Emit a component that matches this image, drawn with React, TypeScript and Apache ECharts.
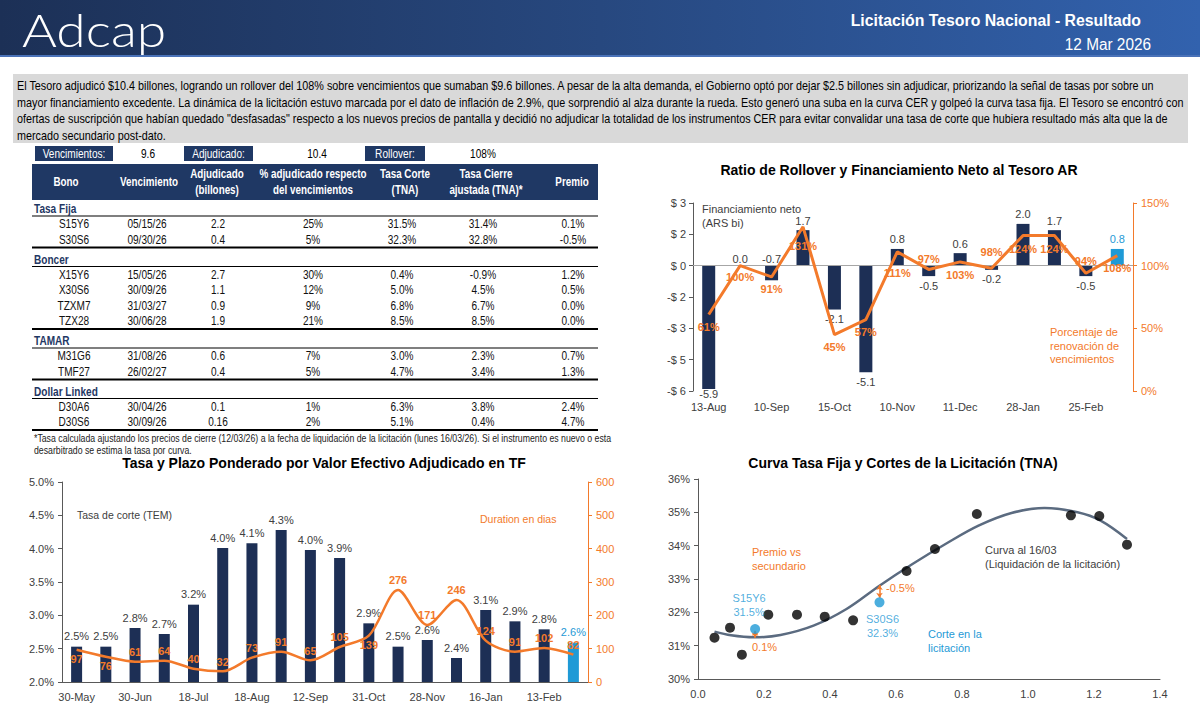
import React, { useEffect, useRef } from 'react';
import * as echarts from 'echarts';

// ---------------- Texts ----------------
const brandName = 'Adcap';
const reportTitle = 'Licitación Tesoro Nacional - Resultado';
const reportDate = '12 Mar 2026';

const summaryText = [
  'El Tesoro adjudicó $10.4 billones, logrando un rollover del 108% sobre vencimientos que sumaban $9.6 billones. A pesar de la alta demanda, el Gobierno optó por dejar $2.5 billones sin adjudicar, priorizando la señal de tasas por sobre un',
  'mayor financiamiento excedente. La dinámica de la licitación estuvo marcada por el dato de inflación de 2.9%, que sorprendió al alza durante la rueda. Esto generó una suba en la curva CER y golpeó la curva tasa fija. El Tesoro se encontró con',
  'ofertas de suscripción que habían quedado "desfasadas" respecto a los nuevos precios de pantalla y decidió no adjudicar la totalidad de los instrumentos CER para evitar convalidar una tasa de corte que hubiera resultado más alta que la de',
  'mercado secundario post-dato.',
];

const kpiLabels = ['Vencimientos:', 'Adjudicado:', 'Rollover:'];
const kpiValues = ['9.6', '10.4', '108%'];

const tableHeaders = [
  'Bono',
  'Vencimiento',
  'Adjudicado\n(billones)',
  '% adjudicado respecto\ndel vencimientos',
  'Tasa Corte\n(TNA)',
  'Tasa Cierre\najustada (TNA)*',
  'Premio',
];
const sectionNames = ['Tasa Fija', 'Boncer', 'TAMAR', 'Dollar Linked'];
const bondSection = [0, 0, 1, 1, 1, 1, 2, 2, 3, 3];
const bondNames = ['S15Y6', 'S30S6', 'X15Y6', 'X30S6', 'TZXM7', 'TZX28', 'M31G6', 'TMF27', 'D30A6', 'D30S6'];
const bondMaturity = ['05/15/26', '09/30/26', '15/05/26', '30/09/26', '31/03/27', '30/06/28', '31/08/26', '26/02/27', '30/04/26', '30/09/26'];
const bondAwarded = ['2.2', '0.4', '2.7', '1.1', '0.9', '1.9', '0.6', '0.4', '0.1', '0.16'];
const bondAwardedPct = ['25%', '5%', '30%', '12%', '9%', '21%', '7%', '5%', '1%', '2%'];
const bondCutRate = ['31.5%', '32.3%', '0.4%', '5.0%', '6.8%', '8.5%', '3.0%', '4.7%', '6.3%', '5.1%'];
const bondCloseRate = ['31.4%', '32.8%', '-0.9%', '4.5%', '6.7%', '8.5%', '2.3%', '3.4%', '3.8%', '0.4%'];
const bondPremium = ['0.1%', '-0.5%', '1.2%', '0.5%', '0.0%', '0.0%', '0.7%', '1.3%', '2.4%', '4.7%'];
const footnote = [
  '*Tasa calculada ajustando los precios de cierre (12/03/26) a la fecha de liquidación de la licitación (lunes 16/03/26). Si el instrumento es nuevo o esta',
  'desarbitrado se estima la tasa por curva.',
];

// ---------------- Chart 1: rollover ----------------
const rolloverTitle = 'Ratio de Rollover y Financiamiento Neto al Tesoro AR';
const rolloverDates = ['13-Aug', '27-Aug', '10-Sep', '24-Sep', '15-Oct', '29-Oct', '10-Nov', '26-Nov', '11-Dec', '14-Jan', '28-Jan', '11-Feb', '25-Feb', '12-Mar'];
const netFinancing = [-5.9, 0.0, -0.7, 1.7, -2.1, -5.1, 0.8, -0.5, 0.6, -0.2, 2.0, 1.7, -0.5, 0.8];
const rolloverPct = [61, 100, 91, 131, 45, 57, 111, 97, 103, 98, 124, 124, 94, 108];
const rolloverLeftNote = ['Financiamiento neto', '(ARS bi)'];
const rolloverRightNote = ['Porcentaje de', 'renovación de', 'vencimientos'];

// ---------------- Chart 2: tasa y plazo ----------------
const tasaTitle = 'Tasa y Plazo Ponderado por Valor Efectivo Adjudicado en TF';
const tasaDates = ['30-May', '13-Jun', '30-Jun', '7-Jul', '18-Jul', '7-Aug', '18-Aug', '27-Aug', '12-Sep', '26-Sep', '31-Oct', '12-Nov', '28-Nov', '12-Dec', '16-Jan', '28-Jan', '13-Feb', '12-Mar'];
const tasaCorteTem = [2.53, 2.53, 2.81, 2.72, 3.16, 4.01, 4.08, 4.28, 3.98, 3.86, 2.88, 2.53, 2.63, 2.36, 3.08, 2.91, 2.79, 2.59];
const durationDays = [97, 76, 61, 64, 40, 32, 73, 91, 65, 105, 139, 276, 171, 246, 124, 91, 102, 82];
const tasaNote = 'Tasa de corte (TEM)';
const durationNote = 'Duration en dias';

// ---------------- Chart 3: curva ----------------
const curveTitle = 'Curva Tasa Fija y Cortes de la Licitación (TNA)';
const secDuration = [0.05, 0.097, 0.133, 0.213, 0.30, 0.384, 0.47, 0.632, 0.718, 0.845, 1.13, 1.216, 1.30];
const secRate = [31.24, 31.54, 30.73, 31.93, 31.93, 31.87, 31.76, 33.24, 33.9, 34.95, 34.91, 34.89, 34.03];
const fitDuration = [0.05, 0.10, 0.17, 0.25, 0.35, 0.45, 0.55, 0.65, 0.75, 0.85, 0.95, 1.05, 1.15, 1.22, 1.30];
const fitRate = [31.42, 31.31, 31.25, 31.32, 31.6, 32.1, 32.8, 33.45, 34.05, 34.6, 34.98, 35.13, 35.0, 34.75, 34.2];
const cutNames = ['S15Y6', 'S30S6'];
const cutDuration = [0.173, 0.55];
const cutRate = [31.5, 32.3];
const curveAtCut = [31.24, 32.82];
const cutPremium = ['0.1%', '-0.5%'];
const premioNote = ['Premio vs', 'secundario'];
const corteNote = ['Corte en la', 'licitación'];
const curveNote = ['Curva al 16/03', '(Liquidación de la licitación)'];

// ---------------- Styles ----------------
const SANS = "'Liberation Sans', Arial, sans-serif";
const NAVY = '#1f3864';
const BAR = '#1d2f55';
const BLUE = '#1f9ad6';
const ORANGE = '#f37a2b';
const GREY = '#404040';
const AXIS = '#595959';

function txt(x: number, y: number, text: string, o: any = {}) {
  return {
    type: 'text',
    x,
    y,
    scaleX: o.sx ?? 1,
    silent: true,
    z: o.z ?? 10,
    style: {
      text,
      fill: o.fill ?? '#000',
      fontSize: o.size ?? 11,
      fontFamily: o.family ?? SANS,
      fontWeight: o.weight ?? 'normal',
      align: o.align ?? 'left',
      verticalAlign: 'middle',
      lineHeight: o.lh ?? 14,
    },
  };
}
function rect(x: number, y: number, w: number, h: number, fill: any) {
  return { type: 'rect', silent: true, z: 1, shape: { x, y, width: w, height: h }, style: { fill } };
}
function hline(x1: number, x2: number, y: number, w: number) {
  return { type: 'line', silent: true, z: 2, shape: { x1, y1: y, x2, y2: y }, style: { stroke: '#000', lineWidth: w } };
}

const NSX = 0.84; // condensed look for the narrow body font

function buildGraphic() {
  const g: any[] = [];
  // header
  g.push(rect(0, 0, 1200, 56, new echarts.graphic.LinearGradient(0, 0, 1, 0, [
    { offset: 0, color: '#1c3056' },
    { offset: 0.5, color: '#27487f' },
    { offset: 1, color: '#3262ae' },
  ])));
  g.push(rect(0, 55, 1200, 2, '#4a72b8'));
  g.push(txt(22, 29, brandName, { fill: '#fff', size: 46, family: "Lato, 'Noto Sans', sans-serif", weight: 300, lh: 46, sx: 1.16 }));
  g.push(txt(1141, 20, reportTitle, { fill: '#fff', size: 17, weight: 'bold', align: 'right', sx: 0.93 }));
  g.push(txt(1151, 44, reportDate, { fill: '#fff', size: 16, align: 'right', sx: 0.96 }));

  // summary paragraph
  g.push(rect(13, 74, 1175, 69, '#d9d9d9'));
  const pY = [86, 103, 119, 136];
  summaryText.forEach((line, i) => g.push(txt(17, pY[i], line, { size: 12, sx: 0.9 })));

  // KPI row
  const kpiBox = [[35, 78], [184, 69], [365, 60]];
  const kpiValX = [148, 317, 483];
  kpiLabels.forEach((l, i) => {
    g.push(rect(kpiBox[i][0], 146, kpiBox[i][1], 15, NAVY));
    g.push(txt(kpiBox[i][0] + kpiBox[i][1] / 2, 153.5, l, { fill: '#fff', size: 12, align: 'center', sx: NSX }));
    g.push(txt(kpiValX[i], 153.5, kpiValues[i], { size: 12, align: 'center', sx: NSX }));
  });

  // table header
  const colX = [66, 149, 217, 313, 405, 486, 572];
  const tL = 32, tR = 598;
  g.push(rect(tL, 164, tR - tL, 36, NAVY));
  tableHeaders.forEach((h, i) =>
    g.push(txt(colX[i], 182, h, { fill: '#fff', size: 12, weight: 'bold', align: 'center', lh: 16, sx: 0.82 }))
  );

  // table body
  const step = 15.5;
  const cx = [74, 147, 218, 313, 402, 483, 573];
  let y = 209;
  sectionNames.forEach((s, si) => {
    if (si > 0) g.push(hline(tL, tR, y - 12, 2));
    g.push(txt(34, y, s, { fill: NAVY, size: 12, weight: 'bold', sx: NSX }));
    g.push(hline(tL, tR, y + 7, 1.2));
    let ry = y + 15;
    bondNames.forEach((b, bi) => {
      if (bondSection[bi] !== si) return;
      const cells = [b, bondMaturity[bi], bondAwarded[bi], bondAwardedPct[bi], bondCutRate[bi], bondCloseRate[bi], bondPremium[bi]];
      cells.forEach((c, ci) => g.push(txt(cx[ci], ry, c, { size: 12, align: 'center', fill: '#111', sx: NSX })));
      ry += step;
    });
    y = ry - step + 20;
  });
  g.push(hline(tL, tR, y - 12, 2));
  footnote.forEach((f, i) => g.push(txt(34, 438 + i * 12, f, { size: 10, fill: '#222', sx: 0.875 })));

  // chart titles
  g.push(txt(899, 170, rolloverTitle, { size: 14, weight: 'bold', align: 'center' }));
  g.push(txt(324, 463, tasaTitle, { size: 14, weight: 'bold', align: 'center' }));
  g.push(txt(903, 463, curveTitle, { size: 14, weight: 'bold', align: 'center' }));

  // chart notes
  rolloverLeftNote.forEach((t, i) => g.push(txt(702, 209 + i * 14, t, { fill: GREY, size: 11 })));
  rolloverRightNote.forEach((t, i) => g.push(txt(1050, 332 + i * 13.5, t, { fill: ORANGE, size: 11 })));
  g.push(txt(77, 515, tasaNote, { fill: GREY, size: 10.5 }));
  g.push(txt(480, 519, durationNote, { fill: ORANGE, size: 10.5 }));
  premioNote.forEach((t, i) => g.push(txt(752, 552 + i * 13.5, t, { fill: ORANGE, size: 11 })));
  corteNote.forEach((t, i) => g.push(txt(928, 634 + i * 13.5, t, { fill: BLUE, size: 11 })));
  curveNote.forEach((t, i) => g.push(txt(985, 550 + i * 13.5, t, { fill: GREY, size: 11 })));
  g.push(txt(752, 647, cutPremium[0], { fill: ORANGE, size: 11 }));
  g.push(txt(886, 588, cutPremium[1], { fill: ORANGE, size: 11 }));
  return g;
}

// per-point label placement (style)
const rollPos = ['bottom', 'bottom', 'bottom', 'bottom', 'bottom', 'bottom', 'bottom', 'top', 'bottom', 'top', 'bottom', 'bottom', 'top', 'bottom'];
const rollDist = [7, 6, 7, 14, 7, 7, 16, 5, 8, 11, 8, 8, 7, 7];
const durPos = ['bottom', 'bottom', 'top', 'top', 'top', 'top', 'top', 'top', 'top', 'top', 'bottom', 'top', 'top', 'top', 'top', 'top', 'top', 'top'];

function leftRound(v: number) {
  const r = v < 0 ? -Math.round(-v) : Math.round(v);
  return r < 0 ? '-$ ' + -r : '$ ' + r;
}

function buildOption() {
  const lastR = netFinancing.length - 1;
  const lastT = tasaCorteTem.length - 1;
  const axisLbl = { color: GREY, fontSize: 11, fontFamily: SANS };
  return {
    animation: false,
    backgroundColor: '#ffffff',
    textStyle: { fontFamily: SANS },
    grid: [
      { left: 693, top: 203, width: 440, height: 188 },
      { left: 62, top: 482, width: 526, height: 200 },
      { left: 698, top: 479, width: 462, height: 200 },
    ],
    xAxis: [
      {
        type: 'category', gridIndex: 0, data: rolloverDates,
        axisLine: { show: false }, axisTick: { show: false },
        axisLabel: { ...axisLbl, interval: 1, margin: 10 },
      },
      {
        type: 'category', gridIndex: 1, data: tasaDates,
        axisLine: { show: true, onZero: false, lineStyle: { color: AXIS, width: 1 } }, axisTick: { show: false },
        axisLabel: { ...axisLbl, interval: 1, margin: 9 },
      },
      {
        type: 'value', gridIndex: 2, min: 0, max: 1.4, interval: 0.2,
        axisLine: { show: true, onZero: false, lineStyle: { color: AXIS } }, axisTick: { show: false },
        splitLine: { show: false },
        axisLabel: { ...axisLbl, margin: 9, formatter: (v: number) => v.toFixed(1) },
      },
    ],
    yAxis: [
      {
        type: 'value', gridIndex: 0, min: -6, max: 3, interval: 1.5, position: 'left',
        axisLine: { show: true, onZero: false, lineStyle: { color: AXIS } },
        axisTick: { show: true, length: 4, lineStyle: { color: AXIS } },
        splitLine: { show: false },
        axisLabel: { ...axisLbl, margin: 7, formatter: leftRound },
      },
      {
        type: 'value', gridIndex: 0, min: 0, max: 150, interval: 50, position: 'right',
        axisLine: { show: true, onZero: false, lineStyle: { color: ORANGE } },
        axisTick: { show: true, length: 4, lineStyle: { color: ORANGE } },
        splitLine: { show: false },
        axisLabel: { ...axisLbl, color: ORANGE, margin: 8, formatter: '{value}%' },
      },
      {
        type: 'value', gridIndex: 1, min: 2, max: 5, interval: 0.5, position: 'left',
        axisLine: { show: true, onZero: false, lineStyle: { color: AXIS } },
        axisTick: { show: true, length: 4, lineStyle: { color: AXIS } },
        splitLine: { show: false },
        axisLabel: { ...axisLbl, margin: 8, formatter: (v: number) => v.toFixed(1) + '%' },
      },
      {
        type: 'value', gridIndex: 1, min: 0, max: 600, interval: 100, position: 'right',
        axisLine: { show: true, onZero: false, lineStyle: { color: ORANGE } },
        axisTick: { show: true, length: 4, lineStyle: { color: ORANGE } },
        splitLine: { show: false },
        axisLabel: { ...axisLbl, color: ORANGE, margin: 8 },
      },
      {
        type: 'value', gridIndex: 2, min: 30, max: 36, interval: 1, position: 'left',
        axisLine: { show: true, onZero: false, lineStyle: { color: AXIS } },
        axisTick: { show: true, length: 4, lineStyle: { color: AXIS } },
        splitLine: { show: false },
        axisLabel: { ...axisLbl, margin: 8, formatter: '{value}%' },
      },
    ],
    series: [
      {
        type: 'bar', xAxisIndex: 0, yAxisIndex: 0, barWidth: 13, z: 2,
        data: netFinancing.map((v, i) => ({
          value: v,
          itemStyle: { color: i === lastR ? BLUE : BAR },
          label: {
            position: v > 0 || i === 1 || i === 2 ? 'top' : 'bottom',
            distance: i === 1 || i === 2 ? 1 : i === 0 ? 0 : 4,
            color: i === lastR ? BLUE : GREY,
          },
        })),
        label: { show: true, fontSize: 11, fontFamily: SANS, formatter: (p: any) => Number(p.value).toFixed(1) },
        markLine: {
          silent: true, symbol: 'none', label: { show: false },
          lineStyle: { color: '#a6a6a6', width: 1, type: 'solid' },
          data: [{ yAxis: 0 }],
        },
      },
      {
        type: 'line', xAxisIndex: 0, yAxisIndex: 1, z: 5, symbol: 'circle', symbolSize: 0.1, showSymbol: true,
        lineStyle: { color: ORANGE, width: 3 }, itemStyle: { color: ORANGE },
        data: rolloverPct.map((v, i) => ({ value: v, label: { position: rollPos[i], distance: rollDist[i] } })),
        label: { show: true, color: ORANGE, fontWeight: 'bold', fontSize: 11, fontFamily: SANS, formatter: '{c}%' },
        labelLayout: { hideOverlap: false },
      },
      {
        type: 'bar', xAxisIndex: 1, yAxisIndex: 2, barWidth: 11, z: 2,
        data: tasaCorteTem.map((v, i) => ({
          value: v,
          itemStyle: { color: i === lastT ? BLUE : BAR },
          label: { color: i === lastT ? BLUE : GREY },
        })),
        label: { show: true, position: 'top', fontSize: 11, fontFamily: SANS, formatter: (p: any) => Number(p.value).toFixed(1) + '%' },
      },
      {
        type: 'line', xAxisIndex: 1, yAxisIndex: 3, z: 5, symbol: 'circle', symbolSize: 0.1, showSymbol: true, smooth: 0.3,
        lineStyle: { color: ORANGE, width: 2.5 }, itemStyle: { color: ORANGE },
        data: durationDays.map((v, i) => ({ value: v, label: { position: durPos[i] } })),
        label: { show: true, color: ORANGE, fontWeight: 'bold', fontSize: 11, fontFamily: SANS, distance: 4 },
        labelLayout: { hideOverlap: false },
      },
      {
        type: 'line', xAxisIndex: 2, yAxisIndex: 4, z: 2, symbol: 'none', smooth: 0.35,
        lineStyle: { color: '#5b6b80', width: 2.5 },
        data: fitDuration.map((d, i) => [d, fitRate[i]]),
      },
      {
        type: 'scatter', xAxisIndex: 2, yAxisIndex: 4, z: 4, symbolSize: 10,
        itemStyle: { color: '#000' },
        data: secDuration.map((d, i) => [d, secRate[i]]),
      },
      {
        type: 'scatter', xAxisIndex: 2, yAxisIndex: 4, z: 6, symbolSize: 10,
        itemStyle: { color: BLUE },
        data: cutDuration.map((d, i) => ({
          name: cutNames[i],
          value: [d, cutRate[i]],
          label: i === 0
            ? { position: 'top', offset: [-6, 0], align: 'center' }
            : { position: 'bottom', offset: [3, 0], align: 'center' },
        })),
        label: {
          show: true, color: BLUE, fontSize: 11, fontFamily: SANS, lineHeight: 14,
          formatter: (p: any) => p.name + '\n' + p.value[1].toFixed(1) + '%',
        },
        markLine: {
          silent: true, symbol: ['arrow', 'arrow'], symbolSize: 5,
          label: { show: false },
          lineStyle: { color: ORANGE, width: 1.5, type: 'solid' },
          data: cutDuration.map((d, i) => [
            { coord: [d, cutRate[i] + (curveAtCut[i] > cutRate[i] ? 0.14 : -0.05)] },
            { coord: [d, curveAtCut[i]] },
          ]),
        },
      },
    ],
    graphic: { elements: buildGraphic() },
  };
}

export default function App() {
  const ref = useRef<HTMLDivElement>(null);
  useEffect(() => {
    if (!ref.current) return;
    const chart = echarts.init(ref.current, null, { renderer: 'svg' });
    chart.setOption(buildOption() as any);
    return () => chart.dispose();
  }, []);
  return (
    <div
      ref={ref}
      style={{ position: 'absolute', left: 0, top: 0, width: 1200, height: 712, background: '#fff' }}
    />
  );
}
